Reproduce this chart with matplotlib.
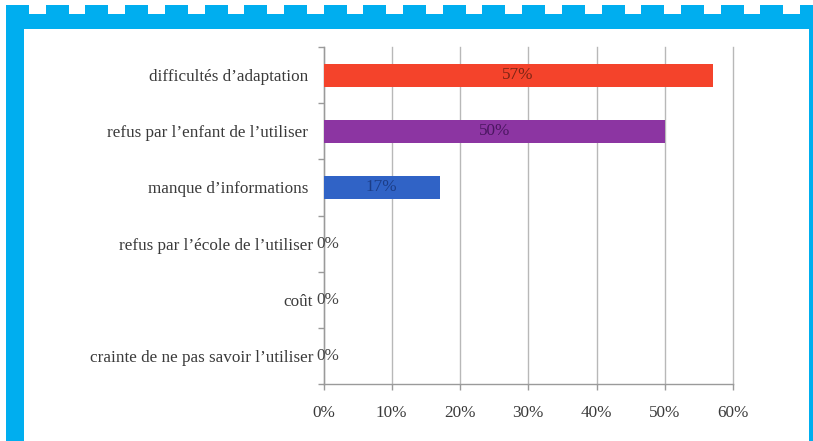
import matplotlib
matplotlib.use("Agg")
import matplotlib.pyplot as plt
from matplotlib.patches import Rectangle
import numpy as np

# Reasons given for not using the device (share of respondents)
categories = [
    "difficultés d’adaptation",
    "refus par l’enfant de l’utiliser",
    "manque d’informations",
    "refus par l’école de l’utiliser",
    "coût",
    "crainte de ne pas savoir l’utiliser",
]
values = [0.57, 0.50, 0.17, 0.0, 0.0, 0.0]
value_labels = ["57%", "50%", "17%", "0%", "0%", "0%"]
bar_colors = ["#F4432B", "#8C35A2", "#3063C6", "#888888", "#888888", "#888888"]
label_colors = ["#7a2414", "#4a1660", "#1c3d86", "#444444", "#444444", "#444444"]
x_ticks = [0.0, 0.1, 0.2, 0.3, 0.4, 0.5, 0.6]
x_tick_labels = ["0%", "10%", "20%", "30%", "40%", "50%", "60%"]

W, H = 813, 441
DPI = 100
FS = 12.3
plt.rcParams["font.family"] = ["Liberation Serif", "DejaVu Serif"]

fig = plt.figure(figsize=(W / DPI, H / DPI), dpi=DPI)
fig.patch.set_facecolor("white")

# axes placed in pixel units
left_px, right_px, top_px, bottom_px = 323.5, 733, 47, 384
ax = fig.add_axes([left_px / W, 1 - bottom_px / H,
                   (right_px - left_px) / W, (bottom_px - top_px) / H])

y = np.arange(len(categories))
ax.barh(y, values, height=0.41, color=bar_colors, zorder=3)
ax.set_xlim(0, 0.6)
ax.set_ylim(len(categories) - 0.5, -0.5)

for yi, v, lab, c in zip(y, values, value_labels, label_colors):
    ax.text(v / 2 if v > 0 else 0.006, yi, lab, ha="center", va="center",
            fontsize=FS, color=c, zorder=4)

ax.set_yticks(y)
ax.set_yticklabels(categories, fontsize=FS, color="#3a3a3a")
ax.tick_params(axis="y", which="major", length=0)
for tk, v in zip(ax.yaxis.get_major_ticks(), values):
    tk.set_pad(11 if v > 0 else 7.5)
ax.set_yticks(np.arange(len(categories) + 1) - 0.5, minor=True)
ax.tick_params(axis="y", which="minor", length=4, color="#9a9a9a", width=1)

ax.set_xticks(x_ticks)
ax.set_xticklabels(x_tick_labels, fontsize=FS, color="#3a3a3a")
ax.tick_params(axis="x", length=4, color="#9a9a9a", width=1, pad=11)

ax.grid(axis="x", color="#b8b8b8", linewidth=1, zorder=0)
for gl in ax.get_xgridlines():
    gl.set_clip_on(False)
for s in ["top", "right"]:
    ax.spines[s].set_visible(False)
for s in ["left", "bottom"]:
    ax.spines[s].set_color("#9a9a9a")
    ax.spines[s].set_linewidth(1)

# blue frame around the panel
blue = "#00AEEF"
def px_rect(x0, y0, w, h):
    fig.patches.append(Rectangle((x0 / W, 1 - (y0 + h) / H), w / W, h / H,
                                 transform=fig.transFigure, color=blue,
                                 linewidth=0, zorder=10))

px_rect(6, 14, 807, 15)        # top band
px_rect(6, 14, 18, H - 14)     # left band
px_rect(809, 14, 4, H - 14)    # right band
x0 = 6.0
while x0 < W:
    px_rect(x0, 5, 23, 10)     # crenellated top edge
    x0 += 39.7

fig.savefig("out.png", dpi=DPI, facecolor="white")
